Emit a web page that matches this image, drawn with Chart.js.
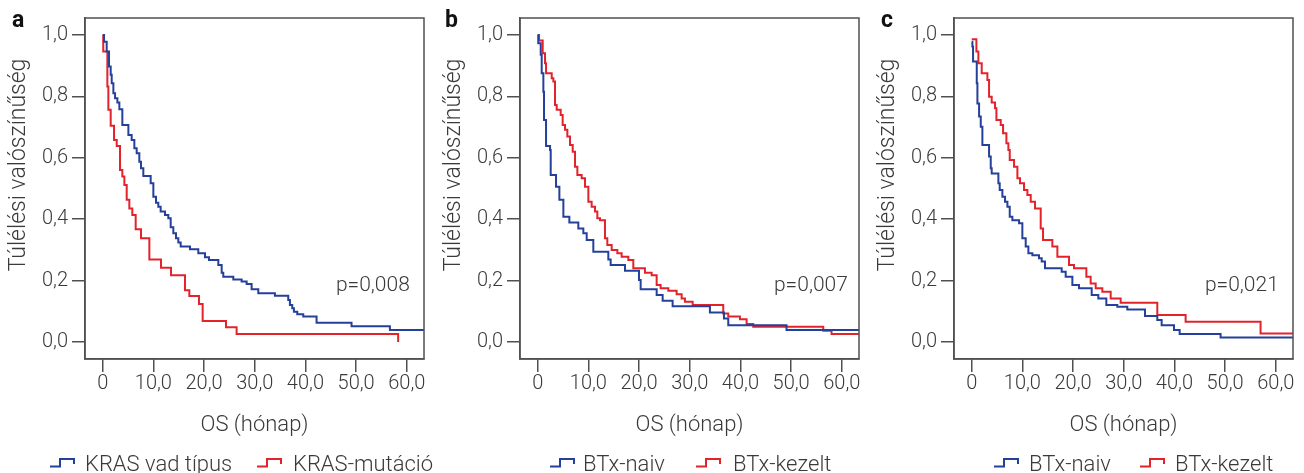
<!DOCTYPE html>
<html>
<head>
<meta charset="utf-8">
<script src="https://cdn.jsdelivr.net/npm/chart.js@4.4.1/dist/chart.umd.min.js"></script>
<style>
  html, body { margin: 0; padding: 0; background: #fff; }
  #wrap { position: relative; width: 1304px; height: 473px; }
  #wrap canvas { position: absolute; top: 0; }
</style>
</head>
<body>
<div id="wrap">
  <canvas id="panelA" width="435" height="473" style="left:0px"></canvas>
  <canvas id="panelB" width="435" height="473" style="left:435px"></canvas>
  <canvas id="panelC" width="435" height="473" style="left:869px"></canvas>
</div>
<script>
// tick values
var xTicks = [0, 10, 20, 30, 40, 50, 60];
var yTicks = [0, 0.2, 0.4, 0.6, 0.8, 1.0];

// a: KRAS vad típus
var kwTime = [0, 0.26, 0.78, 1.24, 1.57, 1.77, 2.1, 2.43, 2.89, 3.28, 3.87, 5.06, 5.71, 6.24, 6.7, 7.22, 7.55, 8.01, 9.46, 9.99, 10.51, 10.97, 11.43, 12.29, 12.94, 13.41, 13.93, 14.46, 14.92, 15.38, 17.22, 18.86, 20.18, 20.97, 22.81, 23.47, 23.79, 25.77, 27.41, 28.4, 29.38, 30.7, 33.98, 36.61, 36.94, 37.4, 37.73, 38.39, 39.57, 42.2, 49.1, 56.67, 63.5];
var kwSurv = [1.0, 0.978, 0.946, 0.897, 0.870, 0.843, 0.810, 0.794, 0.780, 0.758, 0.707, 0.674, 0.658, 0.631, 0.615, 0.587, 0.566, 0.541, 0.517, 0.473, 0.454, 0.441, 0.425, 0.414, 0.403, 0.374, 0.354, 0.338, 0.324, 0.311, 0.302, 0.289, 0.276, 0.267, 0.251, 0.226, 0.213, 0.204, 0.197, 0.189, 0.172, 0.159, 0.151, 0.137, 0.121, 0.110, 0.099, 0.091, 0.083, 0.063, 0.052, 0.039, 0.039];
// a: KRAS-mutáció
var kmTime = [0, 0.1, 0.91, 1.11, 1.57, 2.23, 2.76, 3.41, 3.87, 4.27, 4.73, 5.25, 5.84, 6.5, 7.55, 9.2, 11.5, 13.47, 16.23, 17.09, 18.99, 19.72, 24.32, 26.42, 58.3];
var kmSurv = [1.0, 0.946, 0.832, 0.756, 0.704, 0.658, 0.638, 0.560, 0.539, 0.511, 0.463, 0.435, 0.414, 0.367, 0.338, 0.269, 0.242, 0.218, 0.169, 0.150, 0.124, 0.069, 0.048, 0.026, 0.0];

// b: BTx-naiv
var bNaivTime = [0, 0.1, 0.59, 0.78, 1.11, 1.24, 1.64, 2.43, 2.56, 3.61, 4.27, 5.06, 6.24, 8.01, 9.0, 9.66, 10.97, 13.93, 14.39, 17.22, 19.98, 20.31, 23.47, 24.65, 26.62, 33.98, 36.75, 37.6, 49.1, 63.5];
var bNaivSurv = [1.0, 0.973, 0.935, 0.875, 0.815, 0.723, 0.638, 0.625, 0.544, 0.506, 0.463, 0.408, 0.389, 0.370, 0.354, 0.332, 0.294, 0.269, 0.251, 0.232, 0.202, 0.172, 0.153, 0.135, 0.117, 0.096, 0.077, 0.055, 0.039, 0.039];
// b: BTx-kezelt
var bKezTime = [0, 0.26, 0.98, 1.44, 1.64, 2.76, 3.08, 3.41, 3.74, 4.53, 4.92, 5.38, 5.84, 6.37, 6.9, 7.36, 7.82, 8.67, 9.33, 9.99, 10.64, 11.3, 11.76, 12.29, 13.27, 13.73, 14.59, 15.71, 16.56, 17.88, 18.86, 21.16, 22.48, 23.47, 24.25, 25.77, 27.41, 28.4, 29.05, 30.57, 36.61, 37.6, 39.9, 41.22, 42.53, 56.34, 57.98, 63.5];
var bKezSurv = [1.0, 0.982, 0.940, 0.908, 0.875, 0.859, 0.848, 0.772, 0.756, 0.739, 0.707, 0.691, 0.669, 0.642, 0.620, 0.571, 0.544, 0.533, 0.506, 0.457, 0.441, 0.425, 0.403, 0.397, 0.338, 0.316, 0.300, 0.289, 0.278, 0.267, 0.240, 0.226, 0.218, 0.186, 0.175, 0.167, 0.156, 0.142, 0.131, 0.121, 0.093, 0.083, 0.074, 0.059, 0.050, 0.037, 0.026, 0.026];

// c: BTx-naiv
var cNaivTime = [0, 0.13, 0.26, 0.99, 1.12, 1.45, 1.78, 2.1, 3.42, 3.75, 3.94, 5.26, 5.52, 6.05, 6.57, 7.04, 7.5, 8.02, 9.34, 9.99, 10.65, 11.18, 11.97, 13.28, 13.81, 14.46, 17.75, 18.54, 19.86, 21.17, 23.67, 24.98, 26.56, 28.73, 30.7, 34.19, 36.62, 37.48, 39.91, 41.03, 49.11, 63.5];
var cNaivSurv = [0.978, 0.962, 0.913, 0.843, 0.777, 0.734, 0.701, 0.642, 0.604, 0.566, 0.549, 0.517, 0.495, 0.473, 0.457, 0.441, 0.408, 0.397, 0.387, 0.338, 0.311, 0.289, 0.283, 0.273, 0.262, 0.240, 0.229, 0.213, 0.186, 0.175, 0.153, 0.142, 0.121, 0.115, 0.106, 0.085, 0.072, 0.055, 0.039, 0.026, 0.015, 0.015];
// c: BTx-kezelt
var cKezTime = [0, 0.92, 1.31, 1.97, 3.09, 3.42, 3.94, 4.6, 4.87, 5.72, 6.18, 6.84, 7.23, 7.5, 8.35, 9.01, 9.53, 10.32, 10.98, 11.64, 12.49, 13.61, 14.07, 15.91, 16.9, 19.2, 20.18, 22.62, 23.47, 24.46, 25.77, 27.42, 29.39, 36.62, 42.21, 57.0, 63.5];
var cKezSurv = [0.986, 0.946, 0.908, 0.875, 0.853, 0.799, 0.780, 0.761, 0.723, 0.707, 0.680, 0.647, 0.625, 0.593, 0.571, 0.533, 0.517, 0.495, 0.479, 0.457, 0.435, 0.370, 0.332, 0.311, 0.278, 0.251, 0.240, 0.213, 0.191, 0.175, 0.164, 0.142, 0.128, 0.088, 0.066, 0.028, 0.028];

var pValues = ["p=0,008", "p=0,007", "p=0,021"];
var panelLetters = ["a", "b", "c"];
var labelsA = ["KRAS vad típus", "KRAS-mutáció"];
var labelsBC = ["BTx-naiv", "BTx-kezelt"];

var BLUE = "#25409a";
var RED = "#e2232b";
var AXIS = "#505050";
var TEXT = "#3a3a3a";
var FONT = "Roboto, 'Liberation Sans', sans-serif";

Chart.defaults.font.family = FONT;

function toPoints(t, s) {
  return t.map(function (x, i) { return { x: x, y: s[i] }; });
}

function fmt1(v) {
  return v.toFixed(1).replace(".", ",");
}

// box, panel letter, y title, p value and legend
var decoPlugin = {
  id: "deco",
  afterDraw: function (chart, args, opts) {
    var ctx = chart.ctx;
    var a = chart.chartArea;
    ctx.save();
    ctx.strokeStyle = AXIS;
    ctx.lineWidth = 1.5;
    ctx.strokeRect(a.left, a.top, a.right - a.left, a.bottom - a.top);

    ctx.fillStyle = "#111";
    ctx.font = "bold 23px " + FONT;
    ctx.textAlign = "left";
    ctx.textBaseline = "alphabetic";
    ctx.fillText(opts.letter, opts.letterX, 27);

    ctx.fillStyle = TEXT;
    ctx.font = "300 23px " + FONT;
    ctx.save();
    ctx.translate(19, 165);
    ctx.rotate(-Math.PI / 2);
    ctx.textAlign = "center";
    ctx.textBaseline = "middle";
    ctx.fillText("Túlélési valószínűség", 0, 0);
    ctx.restore();

    var xs = chart.scales.x, ys = chart.scales.y;
    ctx.font = "300 21px " + FONT;
    ctx.textAlign = "right";
    ctx.textBaseline = "middle";
    ctx.fillText(opts.p, xs.getPixelForValue(opts.pX), ys.getPixelForValue(0.185));

    ctx.font = "300 22px " + FONT;
    chart.data.datasets.forEach(function (ds, i) {
      var ix = opts.legend[i][0], tx = opts.legend[i][1];
      ctx.strokeStyle = ds.borderColor;
      ctx.lineWidth = 2;
      ctx.beginPath();
      ctx.moveTo(ix, 466.5);
      ctx.lineTo(ix + 10, 466.5);
      ctx.lineTo(ix + 10, 459);
      ctx.lineTo(ix + 24, 459);
      ctx.lineTo(ix + 24, 464);
      ctx.stroke();
      ctx.textAlign = "left";
      ctx.textBaseline = "alphabetic";
      ctx.fillText(ds.label, tx, 470.5);
    });
    ctx.restore();
  }
};

function makePanel(id, sets, deco) {
  var tickFont = { family: FONT, size: 20, weight: "300" };
  var titleFont = { family: FONT, size: 22, weight: "300" };
  new Chart(document.getElementById(id), {
    type: "line",
    data: {
      datasets: sets.map(function (s) {
        return {
          label: s.label,
          data: toPoints(s.t, s.s),
          borderColor: s.color,
          borderWidth: 2,
          stepped: true,
          pointRadius: 0,
          fill: false
        };
      })
    },
    options: {
      responsive: false,
      animation: false,
      layout: { padding: { top: 18, right: 11, bottom: 34, left: 0 } },
      plugins: {
        legend: { display: false },
        tooltip: { enabled: false },
        deco: deco
      },
      scales: {
        x: {
          type: "linear",
          min: -3.5,
          max: 63.4,
          afterBuildTicks: function (s) { s.ticks = xTicks.map(function (v) { return { value: v }; }); },
          afterFit: function (s) { s.height = 80; },
          grid: { drawOnChartArea: false, tickLength: 13, color: AXIS, lineWidth: 1.5 },
          border: { color: AXIS, width: 1.5 },
          ticks: {
            color: TEXT, font: tickFont, padding: 0, maxRotation: 0, autoSkip: false,
            callback: function (v) { return v === 0 ? "0" : fmt1(v); }
          },
          title: { display: true, text: "OS (hónap)", color: TEXT, font: titleFont, padding: 0 }
        },
        y: {
          min: -0.055,
          max: 1.055,
          afterBuildTicks: function (s) { s.ticks = yTicks.map(function (v) { return { value: v }; }); },
          afterFit: function (s) { s.width = 85; },
          grid: { drawOnChartArea: false, tickLength: 13, color: AXIS, lineWidth: 1.5 },
          border: { color: AXIS, width: 1.5 },
          ticks: {
            color: TEXT, font: tickFont, padding: 4,
            callback: function (v) { return fmt1(v); }
          }
        }
      }
    },
    plugins: [decoPlugin]
  });
}

makePanel("panelA", [
  { label: labelsA[0], t: kwTime, s: kwSurv, color: BLUE },
  { label: labelsA[1], t: kmTime, s: kmSurv, color: RED }
], { letter: panelLetters[0], letterX: 12, p: pValues[0], pX: 60.6, legend: [[50, 85], [257, 293]] });

makePanel("panelB", [
  { label: labelsBC[0], t: bNaivTime, s: bNaivSurv, color: BLUE },
  { label: labelsBC[1], t: bKezTime, s: bKezSurv, color: RED }
], { letter: panelLetters[1], letterX: 10, p: pValues[1], pX: 61.2, legend: [[115, 148], [261, 298]] });

makePanel("panelC", [
  { label: labelsBC[0], t: cNaivTime, s: cNaivSurv, color: BLUE },
  { label: labelsBC[1], t: cKezTime, s: cKezSurv, color: RED }
], { letter: panelLetters[2], letterX: 12, p: pValues[2], pX: 60.6, legend: [[125, 160], [271, 306]] });
</script>
</body>
</html>
